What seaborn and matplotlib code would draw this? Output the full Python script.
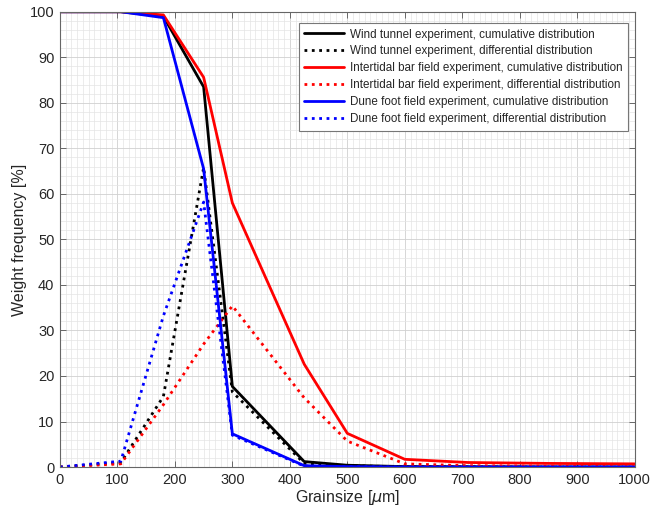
import numpy as np
import pandas as pd
import matplotlib
matplotlib.use("Agg")
import matplotlib.pyplot as plt
import seaborn as sns
from matplotlib.ticker import MultipleLocator

grain = [0, 106, 180, 250, 300, 425, 500, 600, 710, 850, 1000]
wind_cum = [100, 100, 99.0, 83.5, 17.7, 1.2, 0.4, 0.1, 0.05, 0.0, 0.0]
wind_diff = [0, 1.0, 15.5, 65.8, 16.5, 0.8, 0.3, 0.05, 0.05, 0.0, 0.0]
bar_cum = [100, 100, 99.3, 85.6, 58.0, 22.6, 7.4, 1.7, 1.0, 0.8, 0.7]
bar_diff = [0, 0.7, 13.7, 27.0, 35.4, 15.2, 5.7, 0.7, 0.3, 0.2, 0.1]
dune_cum = [100, 100, 98.7, 65.5, 7.3, 0.3, 0.1, 0.0, 0.0, 0.0, 0.0]
dune_diff = [0, 1.3, 33.2, 58.2, 7.0, 0.2, 0.1, 0.0, 0.0, 0.0, 0.0]

labels = [
    "Wind tunnel experiment, cumulative distribution",
    "Wind tunnel experiment, differential distribution",
    "Intertidal bar field experiment, cumulative distribution",
    "Intertidal bar field experiment, differential distribution",
    "Dune foot field experiment, cumulative distribution",
    "Dune foot field experiment, differential distribution",
]
series = [wind_cum, wind_diff, bar_cum, bar_diff, dune_cum, dune_diff]
colors = ["#000000", "#000000", "#ff0000", "#ff0000", "#0000ff", "#0000ff"]
styles = ["-", ":", "-", ":", "-", ":"]

sns.set_theme(style="white")
plt.rcParams["font.family"] = ["Liberation Sans", "DejaVu Sans"]

fig = plt.figure(figsize=(6.66, 5.11), dpi=100)
ax = fig.add_axes([0.090, 0.086, 0.863, 0.891])

for lab, vals, c, ls in zip(labels, series, colors, styles):
    sns.lineplot(x=grain, y=vals, ax=ax, color=c, linestyle=ls, linewidth=2.0,
                 label=lab, estimator=None, sort=False)

ax.set_xlim(0, 1000)
ax.set_ylim(0, 100)
ax.xaxis.set_major_locator(MultipleLocator(100))
ax.xaxis.set_minor_locator(MultipleLocator(10))
ax.yaxis.set_major_locator(MultipleLocator(10))
ax.yaxis.set_minor_locator(MultipleLocator(2))
ax.grid(True, which="major", color="#d0d0d0", linewidth=0.6)
ax.grid(True, which="minor", color="#e4e4e4", linewidth=0.5)
ax.set_axisbelow(True)
ax.tick_params(which="major", direction="in", length=4, width=0.6, color="#555555",
               top=True, right=True, bottom=True, left=True, labelsize=10.5,
               labelcolor="#262626", pad=4)
ax.tick_params(which="minor", length=0)
for s in ax.spines.values():
    s.set_color("#666666")
    s.set_linewidth(0.8)
ax.set_xlabel(r"Grainsize [$\mu$m]", fontsize=11.5, color="#262626", labelpad=1)
ax.set_ylabel("Weight frequency [%]", fontsize=11.5, color="#262626", labelpad=2)

leg = ax.legend(loc="upper right", bbox_to_anchor=(0.989, 0.976), borderaxespad=0,
                fontsize=8.4, frameon=True, fancybox=False, framealpha=1,
                edgecolor="#777777", handlelength=3.4, labelspacing=0.42,
                borderpad=0.5, handletextpad=0.5)
leg.get_frame().set_linewidth(0.8)

fig.savefig("out.png", dpi=100)
